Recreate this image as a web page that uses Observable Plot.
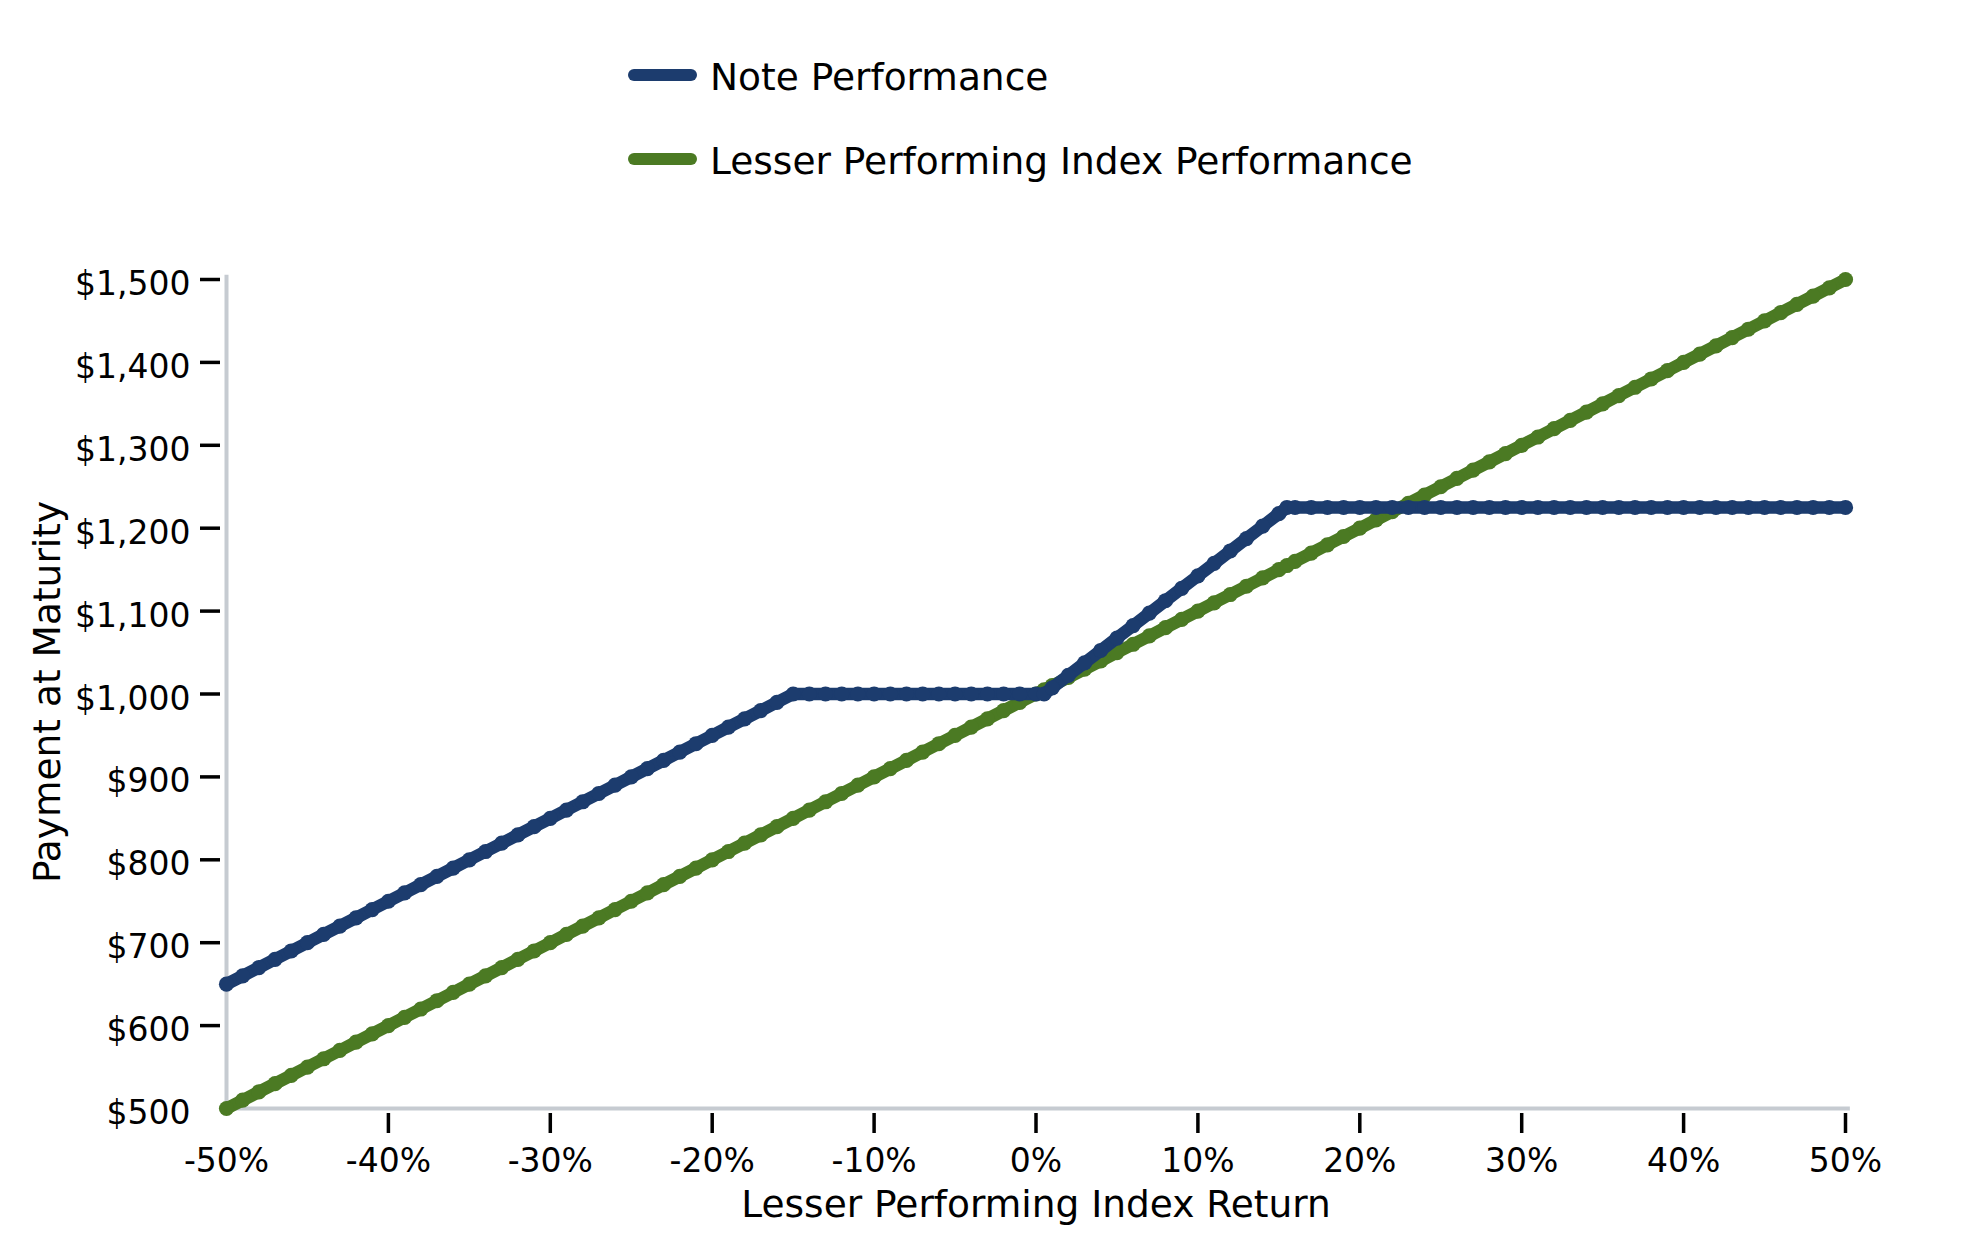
<!DOCTYPE html>
<html><head><meta charset="utf-8">
<script src="https://cdn.jsdelivr.net/npm/d3@7"></script>
<script src="https://cdn.jsdelivr.net/npm/@observablehq/plot@0.6"></script>
<style>
body{margin:0;background:#fff;font-family:"DejaVu Sans",sans-serif;}
#wrap{position:relative;width:1979px;height:1250px;overflow:hidden;background:#fff;}
#legend{position:absolute;left:0;top:0;width:1979px;height:200px;}
.item{position:absolute;left:628px;height:50px;display:flex;align-items:center;font-size:37.5px;line-height:50px;color:#000;white-space:nowrap;}
.swatch{width:69px;height:12px;border-radius:6px;margin-right:13px;position:relative;top:-2px;}
#chart{position:absolute;left:0;top:200px;}
</style></head><body>
<div id="wrap"><div id="legend"></div><div id="chart"></div></div>
<script>
// Lesser Performing Index Return (%)
const returns = [-50,-49,-48,-47,-46,-45,-44,-43,-42,-41,-40,-39,-38,-37,-36,-35,-34,-33,-32,-31,-30,-29,-28,-27,-26,-25,-24,-23,-22,-21,-20,-19,-18,-17,-16,-15,-14,-13,-12,-11,-10,-9,-8,-7,-6,-5,-4,-3,-2,-1,0,0.5,1,2,3,4,5,6,7,8,9,10,11,12,13,14,15,15.5,16,17,18,19,20,21,22,23,24,25,26,27,28,29,30,31,32,33,34,35,36,37,38,39,40,41,42,43,44,45,46,47,48,49,50];
// Lesser Performing Index Performance ($)
const indexPayment = [500,510,520,530,540,550,560,570,580,590,600,610,620,630,640,650,660,670,680,690,700,710,720,730,740,750,760,770,780,790,800,810,820,830,840,850,860,870,880,890,900,910,920,930,940,950,960,970,980,990,1000,1005,1010,1020,1030,1040,1050,1060,1070,1080,1090,1100,1110,1120,1130,1140,1150,1155,1160,1170,1180,1190,1200,1210,1220,1230,1240,1250,1260,1270,1280,1290,1300,1310,1320,1330,1340,1350,1360,1370,1380,1390,1400,1410,1420,1430,1440,1450,1460,1470,1480,1490,1500];
// Note Performance ($)
const notePayment = [650,660,670,680,690,700,710,720,730,740,750,760,770,780,790,800,810,820,830,840,850,860,870,880,890,900,910,920,930,940,950,960,970,980,990,1000,1000,1000,1000,1000,1000,1000,1000,1000,1000,1000,1000,1000,1000,1000,1000,1000,1007.5,1022.5,1037.5,1052.5,1067.5,1082.5,1097.5,1112.5,1127.5,1142.5,1157.5,1172.5,1187.5,1202.5,1217.5,1225,1225,1225,1225,1225,1225,1225,1225,1225,1225,1225,1225,1225,1225,1225,1225,1225,1225,1225,1225,1225,1225,1225,1225,1225,1225,1225,1225,1225,1225,1225,1225,1225,1225,1225,1225];

const xTicks = [-50,-40,-30,-20,-10,0,10,20,30,40,50];
const yTicks = [500,600,700,800,900,1000,1100,1200,1300,1400,1500];
const seriesNames = ["Note Performance", "Lesser Performing Index Performance"];
const seriesColors = ["#1c3c6e", "#4b7a23"];
const xTitle = "Lesser Performing Index Return";
const yTitle = "Payment at Maturity";

// legend
const legend = document.getElementById("legend");
const legendTops = [52, 136];
seriesNames.forEach((name, i) => {
  const item = document.createElement("div");
  item.className = "item";
  item.style.top = legendTops[i] + "px";
  const sw = document.createElement("span");
  sw.className = "swatch";
  sw.style.background = seriesColors[i];
  const tx = document.createElement("span");
  tx.textContent = name;
  item.appendChild(sw); item.appendChild(tx);
  legend.appendChild(item);
});

const data = returns.map((r, i) => ({r, note: notePayment[i], index: indexPayment[i]}));
const fmtMoney = d => "$" + d3.format(",")(d);
const axisGray = "#c6cbd1";

const chart = Plot.plot({
  width: 1979,
  height: 1050,
  marginTop: 79,
  marginBottom: 142,
  marginLeft: 226,
  marginRight: 134,
  style: {fontFamily: "DejaVu Sans", fontSize: "33px", color: "#000", background: "white", overflow: "visible"},
  x: {domain: [-50, 50]},
  y: {domain: [500, 1500]},
  marks: [
    Plot.ruleY([500], {x1: -50, x2: 50.3, stroke: axisGray, strokeWidth: 4}),
    Plot.ruleX([-50], {y1: 500, y2: 1505, stroke: axisGray, strokeWidth: 4}),
    Plot.axisX(xTicks.slice(1), {tickSize: 20, dy: 5, tickFormat: () => "", strokeWidth: 3.5, label: null}),
    Plot.axisX(xTicks, {tickSize: 0, tickPadding: 40, tickFormat: d => d + "%", fontSize: 33, label: null}),
    Plot.axisY(yTicks.slice(1), {tickSize: 20, dx: -6, tickFormat: () => "", strokeWidth: 3.5, label: null}),
    Plot.axisY(yTicks, {tickSize: 0, tickPadding: 36, dy: 5, tickFormat: fmtMoney, fontSize: 33, label: null}),
    Plot.text([xTitle], {text: d => d, frameAnchor: "bottom", dy: 108, fontSize: 37.5, textAnchor: "middle"}),
    Plot.text([yTitle], {text: d => d, frameAnchor: "left", rotate: -90, dx: -179, dy: -2, fontSize: 37.5, textAnchor: "middle"}),
    Plot.line(data, {x: d => d.r, y: d => d.index, stroke: seriesColors[1], strokeWidth: 12.5, strokeLinecap: "round", strokeLinejoin: "round"}),
    Plot.dot(data, {x: d => d.r, y: d => d.index, r: 7.6, fill: seriesColors[1], stroke: "none"}),
    Plot.line(data, {x: d => d.r, y: d => d.note, stroke: seriesColors[0], strokeWidth: 12.5, strokeLinecap: "round", strokeLinejoin: "round"}),
    Plot.dot(data, {x: d => d.r, y: d => d.note, r: 7.6, fill: seriesColors[0], stroke: "none"})
  ]
});
document.getElementById("chart").appendChild(chart);
</script>
</body></html>
